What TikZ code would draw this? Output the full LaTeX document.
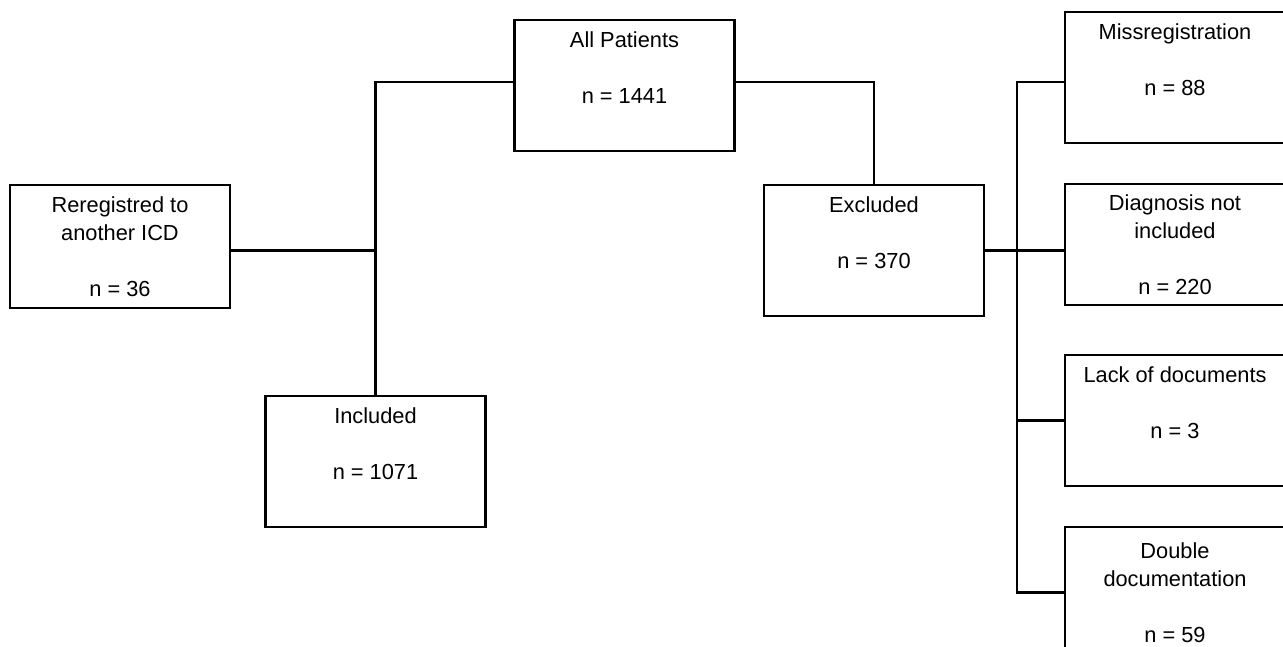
\documentclass[tikz,border=0pt]{standalone}
\usepackage{fontspec}
\setmainfont{Liberation Sans}
\usetikzlibrary{calc}

\begin{document}
\begin{tikzpicture}[x=1pt, y=-1pt]

  \path
    let
     \n{col} = {1175}
    in
     coordinate (allpat)  at (624.5, 85.5)
     coordinate (rereg)   at (120, 246.5)
     coordinate (incl)    at (375.5, 461.5)
     coordinate (excl)    at (874, 250.5)
     coordinate (missreg) at (\n{col}, 77.5)
     coordinate (diag)    at (\n{col}, 244.5)
     coordinate (lack)    at (\n{col}, 420.5)
     coordinate (double)  at (\n{col}, 592.5)
     coordinate (bus)     at (1017, 0)
    ;

  % Page
  \clip (0,0) rectangle (1283,646);
  \fill [white] (0,0) rectangle (1283,646);

  \tikzset{boxstyle/.style = {draw, line width=2.5pt, shape=rectangle, minimum width=220pt, minimum height=131pt,
      align=center, inner sep=0pt, font=\fontsize{21.8}{28}\selectfont}}

  \node [boxstyle] (Allpat) at (allpat) {All Patients\\ \\ n = 1441\\ \strut};
  \node [boxstyle, minimum height=123pt] (Rereg) at (rereg) {Reregistred to\\ another ICD\\ \\ n = 36};
  \node [boxstyle] (Incl) at (incl) {Included\\ \\ n = 1071\\ \strut};
  \node [boxstyle] (Excl) at (excl) {Excluded\\ \\ n = 370\\ \strut};

  % Exclusion reasons
  \node [boxstyle] (Missreg) at (missreg) {Missregistration\\ \\ n = 88\\ \strut};
  \node [boxstyle, minimum height=121pt] (Diag) at (diag) {Diagnosis not\\ included\\ \\ n = 220};
  \node [boxstyle] (Lack) at (lack) {Lack of documents\\ \\ n = 3\\ \strut};
  \node [boxstyle] (Double) at (double) {Double\\ documentation\\ \\ n = 59};

  % Connecting lines
  \tikzset{linestyle/.style = {draw, line width=2.5pt}}

  \path [linestyle] ([yshift=3.5pt]Allpat.west) -| (Incl.north);
  \path [linestyle] ([yshift=-4pt]Rereg.east) -- ([yshift=-4pt]Rereg.east -| Incl.north);
  \path [linestyle] ([yshift=3.5pt]Allpat.east) -| (Excl.north);

  \path [linestyle] (Excl.east) -- (Excl.east -| Diag.west);
  \path [linestyle] ([yshift=-4.5pt]Missreg.west) -| (bus |- Double.west) -- (Double.west);
  \path [linestyle] (Lack.west) -- (Lack.west -| bus);

\end{tikzpicture}
\end{document}
